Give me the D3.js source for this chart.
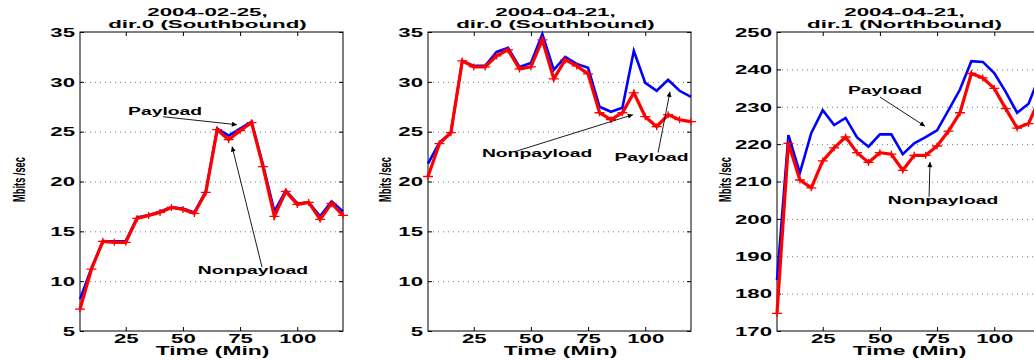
<!DOCTYPE html>
<html>
<head>
<meta charset="utf-8">
<script src="https://cdn.jsdelivr.net/npm/d3@7"></script>
<style>
    body { margin: 0; background: #fff; }
    svg { display: block; }
    text { font-family: "Liberation Sans", Arial, sans-serif; font-weight: bold; fill: #000; }
</style>
</head>
<body>
<svg id="chart" width="1034" height="362"></svg>
<script>
// Sample times (minutes)
const minutes = [5, 10, 15, 20, 25, 30, 35, 40, 45, 50, 55, 60,
                 65, 70, 75, 80, 85, 90, 95, 100, 105, 110, 115, 120];

// 2004-02-25, dir.0 (Southbound)
const feb25SouthPayload    = [8.2, 11.3, 14.0, 14.0, 14.0, 16.4, 16.6, 17.0, 17.4, 17.3, 16.9, 19.0,
                              25.3, 24.6, 25.3, 26.0, 21.7, 17.0, 19.1, 17.8, 17.9, 16.5, 18.0, 17.0];
const feb25SouthNonpayload = [7.2, 11.2, 14.0, 13.9, 13.9, 16.3, 16.6, 16.9, 17.4, 17.2, 16.8, 18.9,
                              25.2, 24.2, 25.1, 25.9, 21.5, 16.5, 19.0, 17.7, 17.9, 16.2, 17.8, 16.6];

// 2004-04-21, dir.0 (Southbound)
const apr21SouthPayload    = [21.8, 23.9, 24.9, 32.1, 31.6, 31.6, 33.0, 33.4, 31.5, 31.9, 34.8, 31.2,
                              32.5, 31.8, 31.4, 27.5, 27.0, 27.4, 33.1, 29.9, 29.1, 30.2, 29.1, 28.5];
const apr21SouthNonpayload = [20.5, 23.8, 24.9, 32.1, 31.5, 31.5, 32.6, 33.2, 31.3, 31.5, 34.2, 30.3,
                              32.2, 31.6, 30.8, 26.9, 26.2, 26.9, 28.9, 26.5, 25.5, 26.7, 26.2, 26.0];

// 2004-04-21, dir.1 (Northbound)
const apr21NorthPayload    = [183.6, 222.4, 212.3, 223.0, 229.1, 225.1, 227.0, 221.8, 219.3, 222.6, 222.6, 217.3,
                              220.2, 221.9, 223.7, 229.1, 234.6, 242.2, 242.0, 239.0, 234.0, 228.4, 230.8, 238.5];
const apr21NorthNonpayload = [174.7, 220.2, 210.4, 208.3, 215.5, 219.0, 221.9, 217.7, 215.1, 217.7, 217.3, 213.0,
                              217.0, 217.0, 219.5, 223.5, 228.4, 238.9, 237.7, 234.9, 229.5, 224.3, 225.5, 232.5];

const xTicks = [25, 50, 75, 100];
const yTicksLow = [5, 10, 15, 20, 25, 30, 35];
const yTicksHigh = [170, 180, 190, 200, 210, 220, 230, 240, 250];

// Annotation labels: [text, labelMin, labelValue, arrowFromMin, arrowFromValue, arrowToMin, arrowToValue]
const feb25SouthNotes = [
    ["Payload", 42.2, 26.7, 41.3, 26.5, 73.6, 25.7],
    ["Nonpayload", 80.6, 10.7, 84.6, 11.4, 71.5, 23.5]
];
const apr21SouthNotes = [
    ["Nonpayload", 52.7, 22.5, 43.0, 23.0, 94.6, 26.7],
    ["Payload", 102.7, 22.1, 105.6, 22.9, 110.8, 29.0]
];
const apr21NorthNotes = [
    ["Payload", 52.2, 233.4, 50.0, 232.6, 69.7, 224.8],
    ["Nonpayload", 77.6, 204.0, 71.5, 205.9, 71.9, 215.2]
];

const panels = [
    { title: ["2004-02-25,", "dir.0 (Southbound)"], left: 80, labelX: 25,
      payload: feb25SouthPayload, nonpayload: feb25SouthNonpayload,
      yDomain: [5, 35], yTicks: yTicksLow, notes: feb25SouthNotes },
    { title: ["2004-04-21,", "dir.0 (Southbound)"], left: 428, labelX: 391,
      payload: apr21SouthPayload, nonpayload: apr21SouthNonpayload,
      yDomain: [5, 35], yTicks: yTicksLow, notes: apr21SouthNotes },
    { title: ["2004-04-21,", "dir.1 (Northbound)"], left: 777, labelX: 731,
      payload: apr21NorthPayload, nonpayload: apr21NorthNonpayload,
      yDomain: [170, 250], yTicks: yTicksHigh, notes: apr21NorthNotes }
];

const plotTop = 32;
const plotWidth = 263;
const plotHeight = 299;

const svg = d3.select("#chart");

svg.append("defs").append("marker")
    .attr("id", "arrow")
    .attr("viewBox", "0 0 10 10")
    .attr("refX", 10)
    .attr("refY", 5)
    .attr("markerWidth", 7)
    .attr("markerHeight", 5)
    .attr("markerUnits", "userSpaceOnUse")
    .attr("orient", "auto")
    .append("path")
    .attr("d", "M0,0L10,5L0,10Z")
    .attr("fill", "#000");

// Wide bold text like the original print
function wideText(g, x, y, str, size, sx, anchor) {
    return g.append("text")
        .attr("transform", `translate(${x},${y}) scale(${sx},1)`)
        .attr("text-anchor", anchor || "middle")
        .style("font-size", `${size}px`)
        .text(str);
}

panels.forEach(p => {
    const x = d3.scaleLinear().domain([5, 120]).range([0, plotWidth]);
    const y = d3.scaleLinear().domain(p.yDomain).range([plotHeight, 0]);

    const g = svg.append("g").attr("transform", `translate(${p.left},${plotTop})`);

    // Dotted horizontal grid
    const grid = g.append("g")
        .call(d3.axisLeft(y).tickValues(p.yTicks.slice(1, -1)).tickSize(-plotWidth).tickFormat(""));
    grid.select(".domain").remove();
    grid.selectAll("line")
        .attr("stroke", "#777")
        .attr("stroke-dasharray", "1,4");

    // Inward ticks on all four sides
    const left = g.append("g")
        .call(d3.axisLeft(y).tickValues(p.yTicks).tickSize(-4).tickSizeOuter(0).tickPadding(5));
    left.selectAll("text")
        .attr("x", null)
        .attr("dy", "0.36em")
        .attr("transform", "translate(-5,0) scale(1.85,1)")
        .style("font-size", "12px");

    const right = g.append("g")
        .attr("transform", `translate(${plotWidth},0)`)
        .call(d3.axisRight(y).tickValues(p.yTicks).tickSize(-4).tickSizeOuter(0).tickFormat(""));

    const bottom = g.append("g")
        .attr("transform", `translate(0,${plotHeight})`)
        .call(d3.axisBottom(x).tickValues(xTicks).tickSize(-4).tickSizeOuter(0));
    bottom.selectAll("text")
        .attr("y", null)
        .attr("dy", null)
        .attr("transform", "translate(0,12) scale(1.85,1)")
        .style("font-size", "12px");

    const topAxis = g.append("g")
        .call(d3.axisTop(x).tickValues(xTicks).tickSize(-4).tickSizeOuter(0).tickFormat(""));

    [left, right, bottom, topAxis].forEach(a => {
        a.select(".domain").remove();
        a.selectAll("line").attr("stroke", "#000");
        a.attr("font-family", null).attr("font-size", null);
    });

    g.append("rect")
        .attr("width", plotWidth)
        .attr("height", plotHeight)
        .attr("fill", "none")
        .attr("stroke", "#000")
        .attr("stroke-width", 1);

    // Series lines
    const line = d3.line()
        .x((d, i) => x(minutes[i]))
        .y(d => y(d));

    g.append("path")
        .datum(p.payload)
        .attr("d", line)
        .attr("fill", "none")
        .attr("stroke", "#0000ff")
        .attr("stroke-width", 2.6);

    g.append("path")
        .datum(p.nonpayload)
        .attr("d", line)
        .attr("fill", "none")
        .attr("stroke", "#ff0000")
        .attr("stroke-width", 3.2);

    // '+' markers on nonpayload
    g.append("g")
        .selectAll("path")
        .data(p.nonpayload)
        .join("path")
        .attr("d", (d, i) => {
            const cx = x(minutes[i]), cy = y(d);
            return `M${cx - 5},${cy}H${cx + 5}M${cx},${cy - 3.5}V${cy + 3.5}`;
        })
        .attr("stroke", "#ff0000")
        .attr("stroke-width", 1.3);

    // Annotations with arrows
    p.notes.forEach(n => {
        wideText(g, x(n[1]), y(n[2]), n[0], 10, 1.93);
        g.append("line")
            .attr("x1", x(n[3])).attr("y1", y(n[4]))
            .attr("x2", x(n[5])).attr("y2", y(n[6]))
            .attr("stroke", "#000")
            .attr("stroke-width", 0.9)
            .attr("marker-end", "url(#arrow)");
    });

    // Title, axis labels
    const cx = plotWidth / 2 - 4;
    wideText(g, cx, 16.3 - plotTop, p.title[0], 10.8, 2.07);
    wideText(g, cx, 28.3 - plotTop, p.title[1], 10.8, 2.07);
    wideText(g, plotWidth / 2 + 1, 355 - plotTop, "Time (Min)", 12, 1.9);

    svg.append("text")
        .attr("transform", `translate(${p.labelX},${plotTop + plotHeight / 2 - 2}) rotate(-90) scale(0.58,1)`)
        .attr("text-anchor", "middle")
        .style("font-size", "16px")
        .text("Mbits /sec");
});
</script>
</body>
</html>
